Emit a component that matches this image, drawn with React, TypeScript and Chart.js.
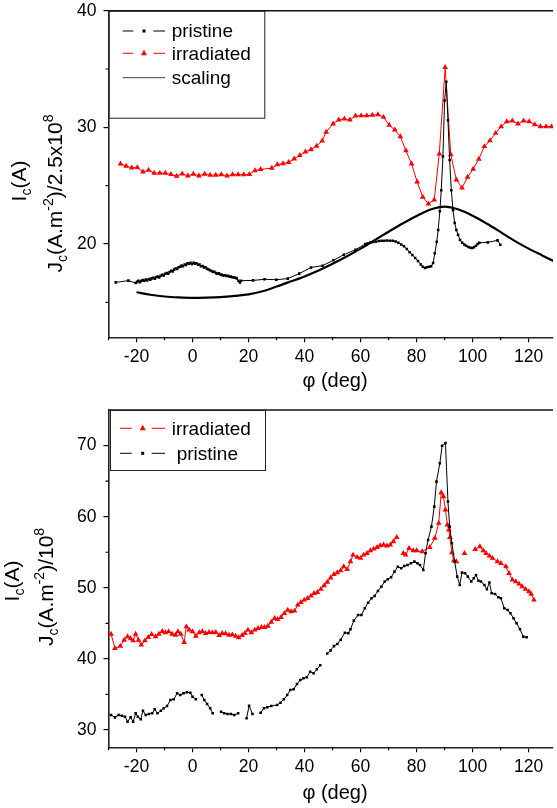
import React, { useEffect, useRef } from 'react';
import { Chart, registerables } from 'chart.js';
Chart.register(...registerables);

const FONT = '"Liberation Sans", Arial, Helvetica, sans-serif';

// ---------- axis ticks ----------
const xMajorTicks = [-20, 0, 20, 40, 60, 80, 100, 120];
const xMinorTicks = [-30, -10, 10, 30, 50, 70, 90, 110];
const topYTicks = [20, 30, 40];
const topYMinor = [15, 25, 35];
const botYTicks = [30, 40, 50, 60, 70];
const botYMinor = [35, 45, 55, 65];

// ---------- top panel data ----------
const topPristinePhi = [
  -27.4, -22.9, -20.3, -19.8, -19.3, -18.8, -18.3, -17.8, -17.2, -16.7, -16.2, -15.6, -15.1, -14.6, -14.0,
  -13.5, -13.0, -12.4, -11.9, -11.4, -10.8, -10.3, -9.8, -9.2, -8.7, -8.2, -7.6, -7.1, -6.6, -6.0, -5.5,
  -5.0, -4.4, -3.9, -3.4, -2.8, -2.3, -1.8, -1.2, -0.7, -0.2, 0.4, 0.9, 1.4, 2.0, 2.5, 3.0, 3.6, 4.1, 4.6,
  5.2, 5.7, 6.2, 6.8, 7.3, 7.8, 8.4, 8.9, 9.4, 10.0, 10.5, 11.0, 11.6, 12.1, 12.6, 13.2, 13.7, 14.2, 14.8,
  15.3, 15.8, 16.4, 16.9, 17.3, 21.6, 25.7, 29.9, 34.0, 38.1, 42.3, 46.4, 50.3, 54.0, 58.2, 61.7, 62.5,
  63.5, 64.5, 65.5, 66.5, 67.5, 68.5, 69.5, 70.5, 71.5, 72.5, 73.5, 74.5, 75.5, 76.5, 77.5, 78.5, 79.5,
  80.5, 81.5, 82.2, 83.0, 83.7, 84.5, 85.2, 85.9, 86.5, 87.2, 87.7, 88.3, 88.8, 89.4, 90.0, 90.6, 91.2,
  91.8, 92.4, 93.0, 93.6, 94.2, 94.8, 95.5, 96.3, 97.0, 97.7, 98.5, 99.2, 99.8, 100.5, 101.2, 101.8, 102.4,
  105.4, 108.9, 109.9,
];
const topPristineIc = [
  16.71, 16.86, 16.66, 16.75, 16.85, 16.72, 16.82, 16.9, 16.85, 16.95, 16.88, 17.0, 16.93, 17.05, 17.1,
  17.02, 17.15, 17.2, 17.12, 17.28, 17.35, 17.3, 17.45, 17.5, 17.45, 17.6, 17.7, 17.65, 17.8, 17.9, 17.85,
  18.0, 18.05, 18.15, 18.1, 18.25, 18.2, 18.35, 18.3, 18.4, 18.28, 18.38, 18.3, 18.35, 18.22, 18.25, 18.1, 18.12, 17.98, 18.0,
  17.88, 17.82, 17.75, 17.68, 17.6, 17.62, 17.5, 17.45, 17.48, 17.38, 17.35, 17.3, 17.32, 17.25, 17.28, 17.2, 17.22, 17.15, 17.12,
  17.1, 17.05, 16.85, 16.7, 16.85, 16.88, 16.97, 16.94, 17.03, 17.46, 17.99, 18.14, 18.6, 19.08, 19.51, 20.0, 20.05,
  20.12, 20.17, 20.2, 20.25, 20.28, 20.28, 20.3, 20.28, 20.27, 20.22, 20.1, 19.95, 19.8, 19.57, 19.3, 19.05, 18.8,
  18.55, 18.25, 18.05, 17.95, 18.0, 18.05, 18.1, 18.37, 19.2, 20.2, 21.2, 22.8, 24.6, 27.5, 32.3, 33.9, 30.6,
  27.2, 24.6, 22.9, 21.8, 21.2, 20.8, 20.35, 20.1, 19.95, 19.85, 19.75, 19.68, 19.65, 19.72, 19.85, 20.0, 20.1,
  20.14, 20.31, 19.94,
];

const topIrradPhi = [
  -25.7, -23.7, -21.7, -19.7, -17.7, -15.7, -13.7, -11.7, -9.7, -7.7, -5.7, -3.7, -1.7, 0.3, 2.3, 4.3, 6.3,
  8.3, 10.3, 12.3, 14.3, 16.3, 18.3, 20.3, 22.3, 24.3, 28.3, 30.3, 32.3, 34.3, 36.3, 38.3, 40.3, 42.3, 44.3,
  46.3, 47.7, 50.2, 52.2, 54.2, 56.2, 58.2, 60.2, 62.2, 64.2, 66.2, 68.2, 70.2, 72.2, 74.2, 76.2, 78.2, 80.2,
  82.2, 84.2, 86.3, 88.1, 90.2, 92.2, 94.2, 96.2, 98.2, 100.2, 102.2, 104.2, 106.2, 108.2, 110.2, 112.2,
  114.2, 116.2, 118.2, 120.2, 122.2, 124.2, 126.2, 128.2,
];
const topIrradIc = [
  26.87, 26.68, 26.53, 26.56, 26.19, 26.33, 26.08, 26.08, 26.08, 25.97, 25.82, 26.02, 25.85, 26.0, 25.85, 26.0, 25.9,
  25.9, 25.95, 25.85, 25.95, 25.95, 25.95, 25.98, 26.3, 26.4, 26.5, 26.8, 26.9, 27.0, 27.3, 27.6, 27.9, 28.1, 28.4,
  28.85, 29.6, 30.3, 30.64, 30.73, 30.64, 30.98, 31.0, 31.0, 31.05, 31.1, 30.87, 30.19, 29.79, 29.2, 28.0, 26.87, 25.33,
  24.02, 23.45, 23.79, 27.73, 35.15, 27.67, 25.5, 24.82, 25.73, 26.42, 27.28, 28.36, 28.87, 29.5, 30.07, 30.5,
  30.56, 30.3, 30.56, 30.5, 30.24, 30.07, 30.07, 30.07,
];

const scalingPhi = [-20, -15, -10, -5, 0, 5, 10, 15, 20, 25, 30, 35, 40, 45, 50, 55, 60, 65, 70, 75, 80, 85, 90, 95, 100, 105, 110, 115, 120, 125, 130];
const scalingIc = [15.86, 15.65, 15.5, 15.42, 15.38, 15.4, 15.45, 15.55, 15.68, 15.95, 16.35, 16.78, 17.22, 17.72, 18.3, 18.92, 19.6, 20.33, 21.05, 21.75, 22.4, 22.95, 23.2, 22.95, 22.42, 21.75, 21.02, 20.27, 19.6, 19.0, 18.4];

// ---------- bottom panel data ----------
const botIrradPhi = [
  -29.1, -27.7, -25.8, -24.4, -23.2, -22.1, -21.2, -20.3, -19.3, -18.3, -17.0, -15.8, -14.6, -13.2, -12.0,
  -10.8, -9.7, -8.5, -7.3, -6.1, -5.2, -4.2, -3.0, -2.2, -1.2, 0.0, 1.2, 2.4, 3.5, 4.7, 5.9, 7.1, 8.3, 9.5,
  10.6, 11.8, 13.0, 14.2, 15.4, 16.5, 17.7, 18.7, 19.8, 21.0, 22.2, 23.4, 24.6, 25.7, 26.9, 28.1, 29.3, 30.4,
  31.6, 32.8, 34.0, 35.2, 36.4, 37.6, 38.7, 39.9, 41.1, 42.3, 43.4, 44.6, 45.8, 47.0, 48.1, 49.3, 50.5, 51.7,
  52.9, 54.0, 55.2, 56.4, 57.3, 58.8, 60.0, 61.1, 62.3, 63.5, 64.7, 65.9, 67.0, 68.2, 69.4, 70.6, 71.7, 72.9,
  74.1, 75.3, 76.1, 77.3, 78.8, 80.0, 82.0, 84.7, 86.5, 87.9, 88.8, 89.6, 90.3, 91.0, 91.5, 91.9, 92.6, 93.3,
  94.2, 95.6, 97.1, 99.0, 100.9, 102.6, 103.8, 104.8, 106.0, 107.1, 108.9, 110.1, 111.9, 113.0, 114.2, 115.4,
  116.6, 117.7, 118.9, 120.1, 120.9, 121.9,
];
const botIrradIc = [
  43.5, 41.5, 41.8, 42.66, 43.13, 42.85, 42.56, 43.5, 42.66, 41.96, 42.56, 43.04, 43.46, 43.13, 43.5,
  43.88, 43.7, 43.83, 43.5, 43.36, 43.83, 43.5, 42.34, 44.53, 44.07, 43.83, 43.22, 43.69, 43.88, 43.6, 43.74, 43.69, 43.74, 43.32,
  43.6, 43.55, 43.36, 43.4, 43.22, 42.99, 43.32, 43.6, 44.07, 43.69, 44.07, 44.3, 44.45, 44.45, 44.63, 45.19, 45.71, 45.57,
  45.85, 46.42, 46.88, 46.65, 46.74, 47.59, 47.96, 48.29, 48.53, 48.85, 49.23, 49.37, 49.8, 50.3, 50.8, 51.4, 51.9, 52.13,
  52.41, 52.97, 52.6, 53.68, 54.62, 54.3, 54.16, 54.62, 54.86, 55.23, 55.46, 55.7, 55.93, 56.03, 55.89, 56.03, 56.49, 57.11,
  null, 54.86, 54.62, 55.56, 55.23, 55.23, 55.09, 55.7, 56.97, 59.08, 63.39, 62.83, 60.95, 58.84, 58.14, 57.11, 54.95, 53.82,
  53.68, null, 54.86, null, 55.42, 55.79, 55.23, 54.86, 54.48, 54.16, 53.68, 53.45, 52.97, 52.04, 51.1, 50.86,
  50.54, 50.16, 49.8, 49.46, 49.13, 48.29,
];

const botPristinePhi = [
  -29.1, -27.7, -26.4, -25.2, -24.1, -23.2, -22.1, -21.2, -20.3, -19.5, -18.5, -17.7, -16.7, -15.6, -14.4,
  -13.5, -12.5, -11.3, -10.3, -9.1, -7.9, -6.7, -5.5, -4.4, -3.2, -2.0, -0.8, 0.0, 1.2, 2.2, 3.3, 4.2, 5.2,
  6.3, 7.2, 8.7, 10.2, 11.3, 12.5, 13.7, 14.9, 16.3, 17.8, 19.3, 20.2, 21.4, 23.0, 24.3, 25.5, 26.7, 28.1,
  30.2, 31.4, 32.6, 33.8, 34.9, 36.1, 37.3, 38.5, 39.6, 40.8, 42.0, 43.2, 44.4, 45.6, 46.8, 48.1, 49.3, 50.5,
  51.7, 52.9, 54.4, 55.6, 56.4, 57.6, 59.1, 60.3, 61.5, 62.7, 63.9, 65.0, 66.2, 67.4, 68.6, 69.7, 70.9, 72.1,
  73.3, 74.5, 75.6, 76.8, 78.0, 79.2, 80.3, 81.2, 82.4, 83.2, 84.1, 85.3, 86.3, 87.1, 88.3, 89.1, 90.3, 91.2,
  91.8, 92.6, 93.6, 94.5, 95.4, 96.2, 97.3, 98.3, 99.5, 100.4, 101.2, 102.1, 103.0, 104.2, 105.1, 106.0,
  106.8, 108.0, 109.2, 110.1, 111.3, 112.5, 113.5, 114.6, 115.7, 116.9, 118.1, 119.3,
];
const botPristineIc = [
  32.11, 31.78, 32.11, 32.01, 31.87, 31.17, 31.78, 31.17, 32.35, 31.87, 31.5, 32.72, 32.11, 32.25, 32.35,
  32.91, 32.35, 32.72, 33.05, 33.38, 34.22, 34.32, 35.16, 34.92, 35.16, 35.3, 35.25, 34.68, 34.32, null, 34.92, 34.22, 33.66,
  33.05, 32.35, null, 32.58, 32.35, 32.25, 32.25, 32.11, 32.35, null, 31.65, 33.42, 32.25, null, 32.44, 33.05, 33.19, 33.38,
  33.52, 33.84, 34.32, 34.92, 35.63, 35.73, 36.47, 37.03, 37.27, 37.41, 38.2, 37.98, 38.54, 39.1, null, 40.75, 41.2, 41.8,
  42.1, 42.7, 43.69, 43.6, 44.17, 45.38, 46.18, 46.18, 47.12, 47.91, 48.53, 48.85, 49.56, 50.16, 50.87, 51.2, 51.48, 52.27,
  52.97, 52.75, 53.07, 53.21, 53.45, 53.68, 53.45, 53.21, 52.51, 54.86, 56.73, 58.6, 61.41, 64.93, 67.52, 69.96, 70.34, 62.12,
  58.6, 56.27, 53.68, 51.57, 50.4, 52.13, 52.04, 51.57, 50.87, 51.34, 51.8, 51.0, 50.87, 50.4, 49.8, 50.73,
  49.23, 49.13, 48.67, 48.53, 47.12, 46.88, 46.42, 45.71, 45.01, 44.17, 43.13, 43.04,
];

const pts = (xs: number[], ys: (number | null)[]) => xs.map((x, i) => ({ x, y: ys[i] }));

type Part = [string, 'n' | 'sub' | 'sup'];

function drawRich(ctx: CanvasRenderingContext2D, parts: Part[], cx: number, cy: number, size: number, rotate: boolean) {
  ctx.save();
  ctx.translate(cx, cy);
  if (rotate) ctx.rotate(-Math.PI / 2);
  const f = (k: string) => `${k === 'n' ? size : Math.round(size * 0.65)}px ${FONT}`;
  const widths = parts.map(([t, k]) => { ctx.font = f(k); return ctx.measureText(t).width; });
  const total = widths.reduce((a, b) => a + b, 0);
  let x = -total / 2;
  ctx.fillStyle = '#000';
  ctx.textAlign = 'left';
  ctx.textBaseline = rotate ? 'alphabetic' : 'middle';
  parts.forEach(([t, k], i) => {
    ctx.font = f(k);
    const dy = k === 'sub' ? size * 0.22 : k === 'sup' ? -size * 0.42 : 0;
    ctx.fillText(t, x, dy);
    x += widths[i];
  });
  ctx.restore();
}

type LegendItem = { label: string; kind: 'sq' | 'tri' | 'line'; color: string; y: number; tx: number };

function drawLegend(ctx: CanvasRenderingContext2D, box: number[], items: LegendItem[], seg: number[]) {
  ctx.save();
  ctx.strokeStyle = '#222';
  ctx.lineWidth = 1;
  ctx.strokeRect(box[0] + 0.5, box[1] + 0.5, box[2], box[3]);
  items.forEach((it) => {
    ctx.strokeStyle = it.kind === 'line' ? '#444' : it.color;
    ctx.lineWidth = 1;
    ctx.beginPath();
    if (it.kind === 'line') {
      ctx.moveTo(seg[0], it.y); ctx.lineTo(seg[4], it.y);
    } else {
      ctx.moveTo(seg[0], it.y); ctx.lineTo(seg[1], it.y);
      ctx.moveTo(seg[3], it.y); ctx.lineTo(seg[4], it.y);
    }
    ctx.stroke();
    ctx.fillStyle = it.color;
    if (it.kind === 'sq') {
      ctx.fillRect(seg[2] - 1.5, it.y - 1.5, 3, 3);
    } else if (it.kind === 'tri') {
      ctx.beginPath();
      ctx.moveTo(seg[2], it.y - 3.5);
      ctx.lineTo(seg[2] + 3, it.y + 2);
      ctx.lineTo(seg[2] - 3, it.y + 2);
      ctx.closePath();
      ctx.fill();
    }
    ctx.fillStyle = '#000';
    ctx.font = `19px ${FONT}`;
    ctx.textAlign = 'left';
    ctx.textBaseline = 'middle';
    ctx.fillText(it.label, it.tx, it.y + 1);
  });
  ctx.restore();
}

type PanelCfg = {
  height: number;
  padTop: number;
  xAxisHeight: number;
  yMin: number;
  yMax: number;
  yTicks: number[];
  yMinor: number[];
  datasets: any[];
  yTitle: Part[];
  iTitleX: number;
  iTitleY: number;
  jTitleX: number;
  jTitleY: number;
  xTitleY: number;
  legendBox: number[];
  legendSeg: number[];
  legendItems: LegendItem[];
};

function buildConfig(cfg: PanelCfg): any {
  const decor = {
    id: 'decor',
    afterDraw(chart: any) {
      const ctx = chart.ctx as CanvasRenderingContext2D;
      const { left, right, top, bottom } = chart.chartArea;
      const xs = chart.scales.x;
      const ys = chart.scales.y;
      ctx.save();
      ctx.strokeStyle = '#000';
      ctx.lineWidth = 1.2;
      ctx.beginPath();
      xMinorTicks.forEach((v) => {
        const p = xs.getPixelForValue(v);
        ctx.moveTo(p, bottom); ctx.lineTo(p, bottom + 3);
      });
      cfg.yMinor.forEach((v) => {
        const p = ys.getPixelForValue(v);
        ctx.moveTo(left, p); ctx.lineTo(left - 3, p);
      });
      ctx.stroke();
      ctx.lineWidth = 1.6;
      ctx.strokeStyle = '#111';
      ctx.beginPath();
      ctx.moveTo(left, top); ctx.lineTo(right, top);
      ctx.stroke();
      ctx.restore();

      drawLegend(ctx, cfg.legendBox, cfg.legendItems, cfg.legendSeg);
      drawRich(ctx, [['I', 'n'], ['c', 'sub'], ['(A)', 'n']], cfg.iTitleX, cfg.iTitleY, 21, true);
      drawRich(ctx, cfg.yTitle, cfg.jTitleX, cfg.jTitleY, 21, true);
      drawRich(ctx, [['φ (deg)', 'n']], 335, cfg.xTitleY, 20, false);
    },
  };
  const noPadX = (s: any) => { s.height = cfg.xAxisHeight; s.paddingLeft = 0; s.paddingRight = 0; };
  const noPadY = (s: any) => { s.width = 108.5; s.paddingTop = 0; s.paddingBottom = 0; };
  return {
    type: 'line',
    data: { datasets: cfg.datasets },
    options: {
      responsive: false,
      animation: false,
      devicePixelRatio: 1,
      layout: { padding: { top: cfg.padTop, left: 0, right: 0, bottom: 0 } },
      plugins: { legend: { display: false }, tooltip: { enabled: false } },
      scales: {
        x: {
          type: 'linear',
          min: -30,
          max: 128.7,
          afterBuildTicks: (s: any) => { s.ticks = xMajorTicks.map((v) => ({ value: v })); },
          afterFit: noPadX,
          ticks: { color: '#000', font: { family: FONT, size: 17.5 }, padding: 4, maxRotation: 0, autoSkip: false },
          grid: { drawOnChartArea: false, drawTicks: true, tickLength: 5, color: '#000', lineWidth: 1.2 },
          border: { display: true, color: '#222', width: 1.6 },
        },
        y: {
          type: 'linear',
          min: cfg.yMin,
          max: cfg.yMax,
          afterBuildTicks: (s: any) => { s.ticks = cfg.yTicks.map((v) => ({ value: v })); },
          afterFit: noPadY,
          ticks: { color: '#000', font: { family: FONT, size: 17.5 }, padding: 7 },
          grid: { drawOnChartArea: false, drawTicks: true, tickLength: 5, color: '#000', lineWidth: 1.2 },
          border: { display: true, color: '#222', width: 1.6 },
        },
      },
      elements: { line: { tension: 0 } },
    },
    plugins: [decor],
  };
}

const pristineStyle = {
  borderColor: '#000',
  backgroundColor: '#000',
  borderWidth: 1,
  pointStyle: 'rect',
  pointRadius: 1.8,
  pointBorderWidth: 0,
  pointBackgroundColor: '#000',
  spanGaps: false,
};
const irradStyle = {
  borderColor: '#ff0000',
  backgroundColor: '#ff0000',
  borderWidth: 1,
  pointStyle: 'triangle',
  pointRadius: 3.3,
  pointBorderWidth: 0,
  pointBackgroundColor: '#ff0000',
  spanGaps: false,
};

const topCfg: PanelCfg = {
  height: 400,
  padTop: 10.7,
  xAxisHeight: 62.7,
  yMin: 12,
  yMax: 40,
  yTicks: topYTicks,
  yMinor: topYMinor,
  datasets: [
    { label: 'pristine', data: pts(topPristinePhi, topPristineIc), ...pristineStyle },
    { label: 'scaling', data: pts(scalingPhi, scalingIc), borderColor: '#000', borderWidth: 2.2, pointRadius: 0, cubicInterpolationMode: 'monotone' },
    { label: 'irradiated', data: pts(topIrradPhi, topIrradIc), ...irradStyle },
  ],
  yTitle: [['J', 'n'], ['c', 'sub'], ['(A.m', 'n'], ['-2', 'sup'], [')/2.5x10', 'n'], ['8', 'sup']],
  iTitleX: 26,
  iTitleY: 181,
  jTitleX: 62,
  jTitleY: 193.5,
  xTitleY: 381,
  legendBox: [108.5, 10.7, 155.8, 107],
  legendSeg: [122.7, 133.3, 144, 153.3, 165],
  legendItems: [
    { label: 'pristine', kind: 'sq', color: '#000', y: 31, tx: 171.7 },
    { label: 'irradiated', kind: 'tri', color: '#ff0000', y: 53.3, tx: 171.7 },
    { label: 'scaling', kind: 'line', color: '#000', y: 77.7, tx: 171.7 },
  ],
};

const botCfg: PanelCfg = {
  height: 408,
  padTop: 10,
  xAxisHeight: 60.7,
  yMin: 27.57,
  yMax: 75,
  yTicks: botYTicks,
  yMinor: botYMinor,
  datasets: [
    { label: 'pristine', data: pts(botPristinePhi, botPristineIc), ...pristineStyle },
    { label: 'irradiated', data: pts(botIrradPhi, botIrradIc), ...irradStyle },
  ],
  yTitle: [['J', 'n'], ['c', 'sub'], ['(A.m', 'n'], ['-2', 'sup'], [')/10', 'n'], ['8', 'sup']],
  iTitleX: 19,
  iTitleY: 181,
  jTitleX: 53,
  jTitleY: 187,
  xTitleY: 393,
  legendBox: [110, 10, 155, 60],
  legendSeg: [120, 131.7, 142.7, 151.7, 165],
  legendItems: [
    { label: 'irradiated', kind: 'tri', color: '#ff0000', y: 28.3, tx: 171.7 },
    { label: 'pristine', kind: 'sq', color: '#000', y: 53.3, tx: 176.7 },
  ],
};

function Panel({ cfg }: { cfg: PanelCfg }) {
  const ref = useRef<HTMLCanvasElement | null>(null);
  useEffect(() => {
    const chart = new Chart(ref.current as HTMLCanvasElement, buildConfig(cfg));
    return () => chart.destroy();
  }, [cfg]);
  return <canvas ref={ref} width={557} height={cfg.height} style={{ display: 'block', width: 557, height: cfg.height }} />;
}

export default function App() {
  return (
    <div style={{ position: 'absolute', left: 0, top: 0, width: 557, height: 808, background: '#fff', overflow: 'hidden' }}>
      <Panel cfg={topCfg} />
      <Panel cfg={botCfg} />
    </div>
  );
}
